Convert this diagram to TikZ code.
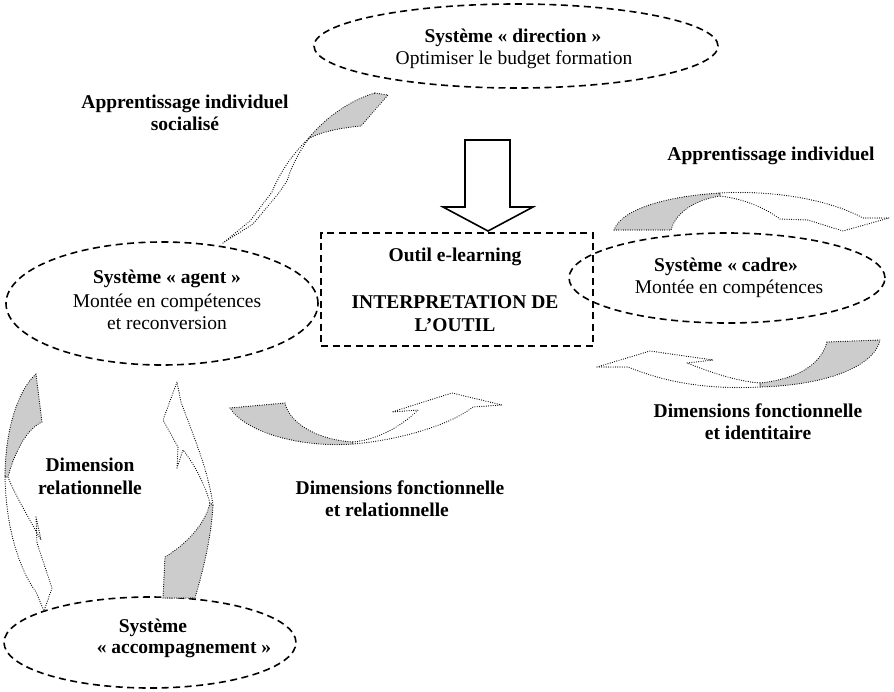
\documentclass[tikz,border=0pt]{standalone}
\usepackage{fontspec}
\setmainfont{Liberation Serif}
\usetikzlibrary{shapes.geometric}
\begin{document}
\begin{tikzpicture}[x=1pt,y=-1pt,
  txt/.style={font=\fontsize{19.5}{22.5}\selectfont, align=center, inner sep=0pt},
  btxt/.style={txt, font=\fontsize{19.5}{22.5}\selectfont\bfseries},
  sysell/.style={ellipse, draw, line width=1.6pt, dash pattern=on 7pt off 4.5pt, inner sep=0pt},
  ribbon/.style={draw=black, line width=1.2pt, dash pattern=on 0pt off 2.3pt, line cap=round, line join=round},
  back/.style={ribbon, fill=black!20},
  front/.style={ribbon, fill=white},
  blockarrow/.style={draw, line width=1.6pt, fill=white, line join=miter}
]
\useasboundingbox (0,0) rectangle (894,691);

% ---- systems ----
\node[sysell, minimum width=404pt, minimum height=84pt] (dir) at (516,46) {};
\node[btxt] (dirT) at (513,38) {Système « direction  »};
\node[txt] (dirS) at (514,60) {Optimiser le budget formation};

\node[sysell, minimum width=312pt, minimum height=123pt] (agent) at (162,303.5) {};
\node[btxt] (agentT) at (167,279) {Système « agent »};
\node[txt] (agentS) at (167,312) {Montée en compétences\\et reconversion};

\node[sysell, minimum width=316pt, minimum height=90pt] (cadre) at (727,278) {};
\node[btxt] (cadreT) at (726,267) {Système « cadre»};
\node[txt] (cadreS) at (729,289) {Montée en compétences};

\node[sysell, minimum width=292pt, minimum height=91pt] (accomp) at (150,642.5) {};
\node[btxt] (accT1) at (153,628) {Système};
\node[btxt] (accT2) at (184,650) {« accompagnement  »};

% ---- e-learning tool ----
\node[draw, line width=1.6pt, dash pattern=on 7pt off 4.5pt, minimum width=272pt, minimum height=113pt, inner sep=0pt] (outil) at (457,289.5) {};
\node[btxt] (outilT) at (455,257) {Outil e-learning};
\node[btxt] (outilS) at (455,313.5) {INTERPRETATION DE\\L’OUTIL};

% ---- block arrow from direction to tool ----
\draw[blockarrow] (465,140) -- (510,140) -- (510,207) -- (533,207) -- (488,231) -- (443,207) -- (465,207) -- cycle;

% ---- labels ----
\node[btxt] (l1) at (185,113) {Apprentissage individuel\\socialisé};
\node[btxt] (l2) at (771,156) {Apprentissage individuel};
\node[btxt] (l3) at (90,476.5) {Dimension\\relationnelle};
\node[btxt] (l4a) at (400,488) {Dimensions fonctionnelle};
\node[btxt] (l4b) at (387,510) {et relationnelle};
\node[btxt] (l5) at (758,421.5) {Dimensions fonctionnelle\\et identitaire};

% ---- curved ribbon arrows ----
% above cadre, heading right
\draw[back] (614,230) .. controls (622,208) and (670,196) .. (720,193)
  -- (720,196) .. controls (695,200) and (676,212) .. (671,230) -- cycle;
\draw[front] (720,193) .. controls (775,190) and (830,200) .. (863,218)
  -- (889,218) -- (843,231) -- (808,220) -- (780,219)
  .. controls (765,208) and (745,199) .. (720,196) -- cycle;

% below cadre, heading left
\draw[back] (827,342) -- (880,340) .. controls (875,365) and (830,385) .. (760,387)
  -- (760,383) .. controls (805,378) and (822,360) .. (827,342) -- cycle;
\draw[front] (760,387) .. controls (700,390) and (660,380) .. (628,367)
  -- (597,367) -- (650,351) -- (713,360) -- (687,363)
  .. controls (710,372) and (735,381) .. (760,383) -- cycle;

% between agent and tool, heading right
\draw[back] (230,408) -- (285,403) .. controls (290,425) and (320,440) .. (353,442)
  -- (353,444) .. controls (300,448) and (245,432) .. (230,408) -- cycle;
\draw[front] (353,444) .. controls (400,440) and (450,425) .. (473,407)
  -- (502,405) -- (452,393) -- (392,412) -- (418,410)
  .. controls (400,428) and (375,440) .. (353,442) -- cycle;

% from direction down to agent
\draw[back] (375,93) -- (388,95) -- (361,126) .. controls (340,128) and (320,132) .. (308,139)
  .. controls (325,118) and (350,100) .. (375,93) -- cycle;
\draw[front] (308,139) .. controls (292,155) and (280,172) .. (272,192)
  -- (250,221) -- (223,243) -- (253,224) -- (278,194) -- (287,181)
  .. controls (292,165) and (300,150) .. (310,137) -- cycle;

% left side, heading down to accompagnement
\draw[back] (36,374) -- (42,422) .. controls (28,428) and (15,450) .. (8,477)
  -- (5,477) .. controls (5,430) and (18,390) .. (36,374) -- cycle;
\draw[front] (5,477) .. controls (6,530) and (20,570) .. (36,592)
  -- (44,611) -- (52,588) -- (37,543) -- (36,517) -- (41,540)
  .. controls (30,520) and (15,495) .. (8,477) -- cycle;

% right side, heading up to agent
\draw[back] (163,598) -- (165,557) .. controls (185,545) and (205,525) .. (210,503)
  -- (213,505) .. controls (211,540) and (203,570) .. (195,598) -- cycle;
\draw[front] (213,505) .. controls (208,470) and (195,440) .. (181,402)
  -- (177,382) -- (163,420) -- (178,447) -- (177,468) -- (183,450)
  .. controls (195,465) and (205,485) .. (210,503) -- cycle;
\end{tikzpicture}
\end{document}
